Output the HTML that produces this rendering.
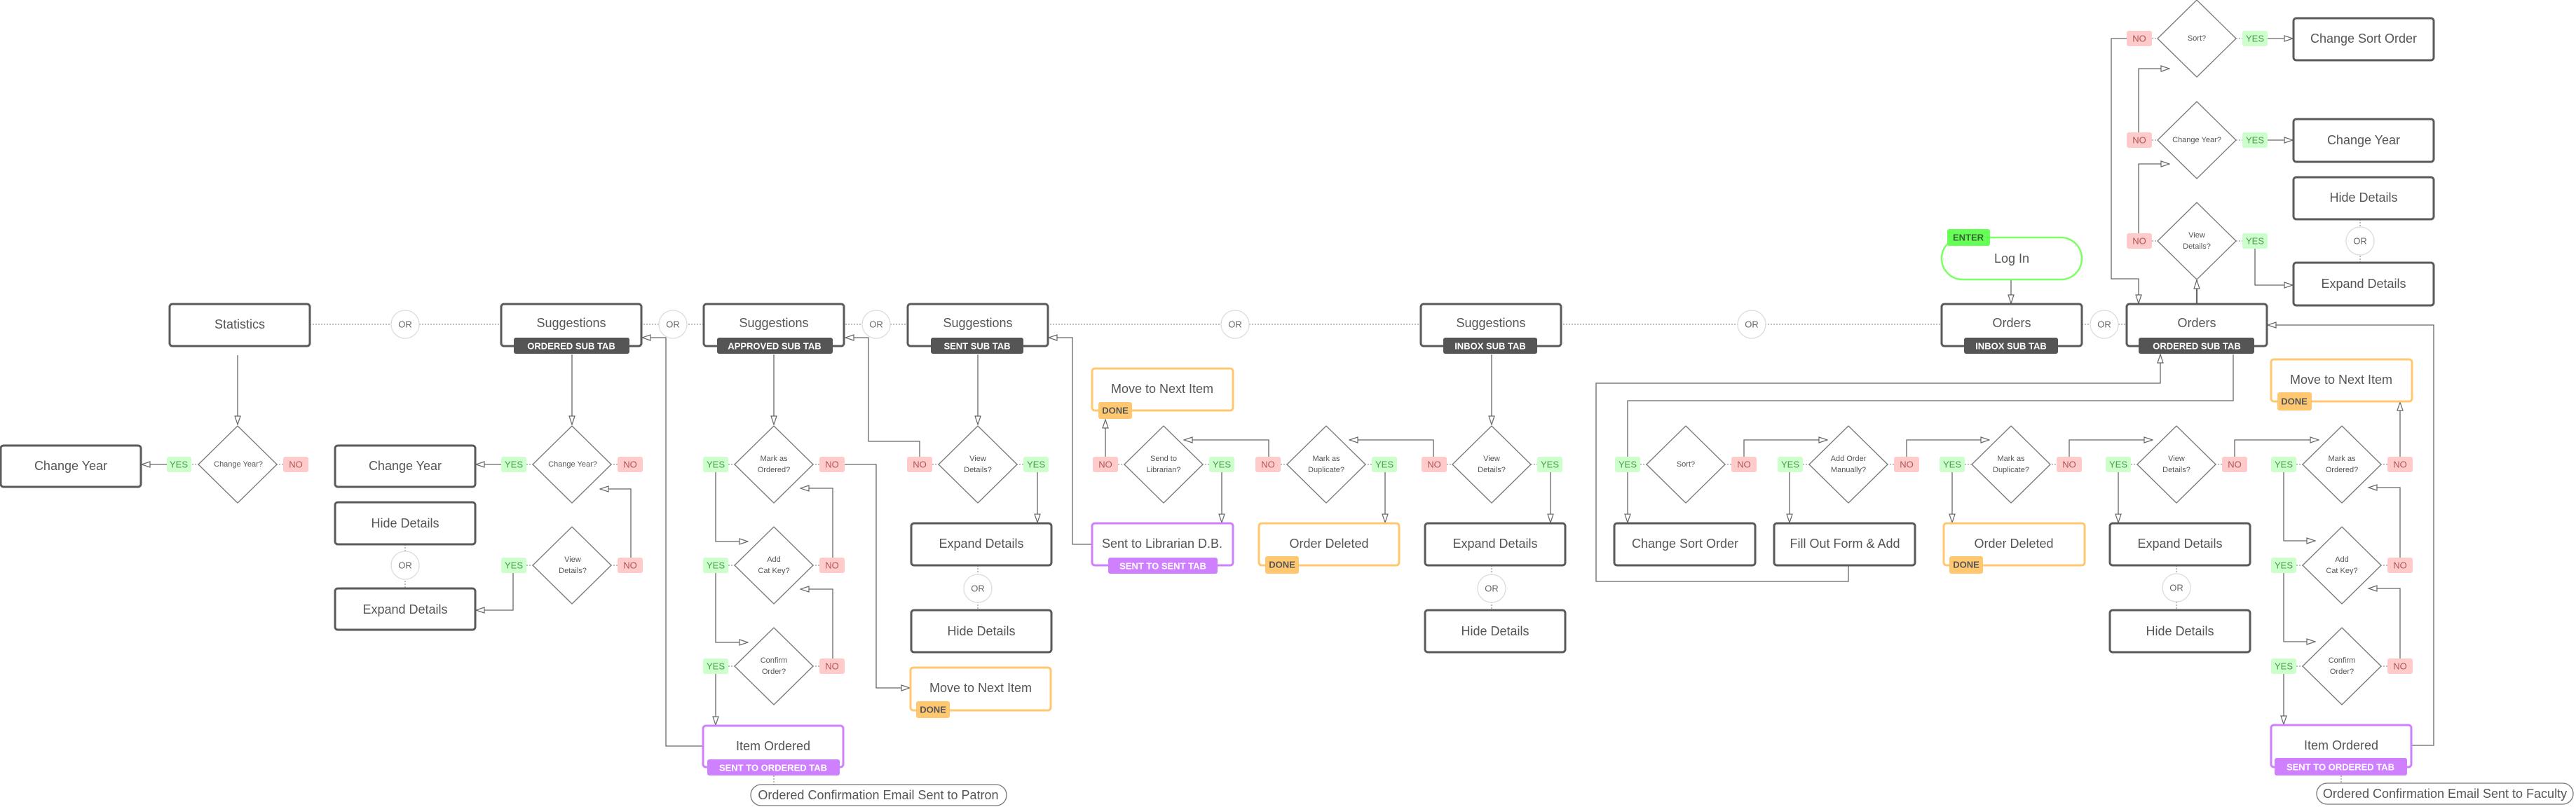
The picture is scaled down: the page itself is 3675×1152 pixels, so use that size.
<!DOCTYPE html>
<html><head><meta charset="utf-8"><style>
html,body{margin:0;padding:0;background:#fff}
svg{display:block}
.b{fill:#fff;stroke:#5a5a5a;stroke-width:3}
.bo{fill:#fff;stroke:#ffc870;stroke-width:3}
.bp{fill:#fff;stroke:#cf80ff;stroke-width:3}
.bg{fill:#fff;stroke:#7dff66;stroke-width:2.5}
.d{fill:#fff;stroke:#777;stroke-width:1.3;stroke-linejoin:round}
.l{fill:none;stroke:#666;stroke-width:1.3}
.dot{fill:none;stroke:#999;stroke-width:1.3;stroke-dasharray:2 2}
.or{fill:#fff;stroke:#ddd;stroke-width:1.3}
text{font-family:"Liberation Sans",sans-serif;text-anchor:middle;dominant-baseline:central}
.t{font-size:18px;fill:#555}
.s{font-size:13px;fill:#fff;font-weight:bold}
.q{font-size:11px;fill:#555}
.o{font-size:13px;fill:#666}
.yr{fill:#ccffcc}.nr{fill:#ffcaca}
.yt{font-size:13px;fill:#4a9a4a}.nt{font-size:13px;fill:#b05555}
.dn{fill:#ffc870}.dt{font-size:13px;fill:#555;font-weight:bold}
</style></head><body>
<svg width="3675" height="1152" viewBox="0 0 3675 1152" xmlns="http://www.w3.org/2000/svg">
<defs><marker id="a" viewBox="0 0 14 10" refX="13" refY="5" markerWidth="14" markerHeight="10" markerUnits="userSpaceOnUse" orient="auto"><path d="M1,1 L13,5 L1,9 Z" fill="#fff" stroke="#666" stroke-width="1.2"/></marker></defs>

<!-- main dotted line -->
<line class="dot" x1="442" y1="463" x2="3034" y2="463"/>
<!-- vertical OR dotted -->
<line class="dot" x1="578" y1="777" x2="578" y2="840"/>
<line class="dot" x1="1395" y1="807" x2="1395" y2="871"/>
<line class="dot" x1="2128" y1="807" x2="2128" y2="871"/>
<line class="dot" x1="3105" y1="807" x2="3105" y2="871"/>
<line class="dot" x1="3367" y1="313" x2="3367" y2="375"/>
<line class="dot" x1="1104" y1="1107" x2="1104" y2="1120"/>
<line class="dot" x1="3340" y1="1107" x2="3340" y2="1118"/>
<!-- decision dotted rows -->
<g class="dot">
<line x1="238" y1="663" x2="440" y2="663"/>
<line x1="715" y1="663" x2="917" y2="663"/><line x1="715" y1="807" x2="917" y2="807"/>
<line x1="1003" y1="663" x2="1205" y2="663"/><line x1="1003" y1="807" x2="1205" y2="807"/><line x1="1003" y1="951" x2="1205" y2="951"/>
<line x1="1294" y1="663" x2="1496" y2="663"/>
<line x1="1559" y1="663" x2="1760" y2="663"/>
<line x1="1791" y1="663" x2="1993" y2="663"/>
<line x1="2028" y1="663" x2="2228" y2="663"/>
<line x1="2304" y1="663" x2="2505" y2="663"/>
<line x1="2536" y1="663" x2="2737" y2="663"/>
<line x1="2767" y1="663" x2="2969" y2="663"/>
<line x1="3004" y1="663" x2="3206" y2="663"/>
<line x1="3240" y1="663" x2="3441" y2="663"/><line x1="3240" y1="807" x2="3441" y2="807"/><line x1="3240" y1="951" x2="3441" y2="951"/>
<line x1="3034" y1="55" x2="3234" y2="55"/><line x1="3034" y1="200" x2="3234" y2="200"/><line x1="3034" y1="344" x2="3234" y2="344"/>
</g>

<!-- connectors -->
<g class="l" marker-end="url(#a)">
<path d="M339,507 V606"/>
<path d="M238,663 H202"/>
<path d="M816,506 V606"/>
<path d="M715,663 H679"/>
<path d="M900,796 V698 H856"/>
<path d="M732,818 V871 H679"/>
<path d="M1003,1065 H950 V482 H916"/>
<path d="M1104,506 V606"/>
<path d="M1021,674 V773 H1067"/>
<path d="M1021,818 V917 H1067"/>
<path d="M1021,962 V1035"/>
<path d="M1188,796 V697 H1142"/>
<path d="M1188,940 V841 H1142"/>
<path d="M1205,663 H1250 V982 H1298"/>
<path d="M1395,506 V606"/>
<path d="M1312,652 V630 H1239 V482 H1206"/>
<path d="M1480,674 V746"/>
<path d="M1558,777 H1530 V482 H1496"/>
<path d="M1577,652 V599"/>
<path d="M1743,674 V746"/>
<path d="M1810,652 V628 H1689"/>
<path d="M1976,674 V746"/>
<path d="M2128,506 V606"/>
<path d="M2045,652 V628 H1925"/>
<path d="M2212,674 V746"/>
<path d="M2637,807 V830 H2277 V547 H3082 V506"/>
<path d="M3186,506 V572 H2322 V746"/>
<path d="M2488,652 V628 H2607"/>
<path d="M2553,674 V746"/>
<path d="M2720,652 V628 H2838"/>
<path d="M2785,674 V746"/>
<path d="M2952,652 V628 H3071"/>
<path d="M3022,674 V746"/>
<path d="M3188,652 V628 H3308"/>
<path d="M3424,652 V574"/>
<path d="M3258,674 V772 H3303"/>
<path d="M3258,818 V916 H3303"/>
<path d="M3258,962 V1034"/>
<path d="M3424,796 V696 H3379"/>
<path d="M3424,940 V840 H3379"/>
<path d="M3440,1064 H3472 V464 H3235"/>
<path d="M2869,399 V433"/>
<path d="M3034,55 H3012 V398 H3051 V433"/>
<path d="M3051,189 V98 H3095"/>
<path d="M3051,333 V234 H3095"/>
<path d="M3234,55 H3271"/>
<path d="M3234,200 H3271"/>
<path d="M3217,355 V407 H3271"/>
<path d="M3134,434 V400" style="stroke-width:2.2"/>
</g>

<!-- OR circles -->
<g>
<circle class="or" cx="578" cy="463" r="20"/><text class="o" x="578" y="463">OR</text>
<circle class="or" cx="960" cy="463" r="20"/><text class="o" x="960" y="463">OR</text>
<circle class="or" cx="1250" cy="463" r="20"/><text class="o" x="1250" y="463">OR</text>
<circle class="or" cx="1762" cy="463" r="20"/><text class="o" x="1762" y="463">OR</text>
<circle class="or" cx="2499" cy="463" r="20"/><text class="o" x="2499" y="463">OR</text>
<circle class="or" cx="3002" cy="463" r="20"/><text class="o" x="3002" y="463">OR</text>
<circle class="or" cx="578" cy="807" r="20"/><text class="o" x="578" y="807">OR</text>
<circle class="or" cx="1395" cy="840" r="20"/><text class="o" x="1395" y="840">OR</text>
<circle class="or" cx="2128" cy="840" r="20"/><text class="o" x="2128" y="840">OR</text>
<circle class="or" cx="3105" cy="839" r="20"/><text class="o" x="3105" y="839">OR</text>
<circle class="or" cx="3367" cy="344" r="20"/><text class="o" x="3367" y="344">OR</text>
</g>

<!-- main row boxes -->
<rect class="b" x="242" y="434" width="200" height="60" rx="4"/><text class="t" x="342" y="463">Statistics</text>
<rect class="b" x="715" y="434" width="200" height="60" rx="4"/><text class="t" x="815" y="461">Suggestions</text>
<rect x="733" y="482" width="165" height="23" rx="3" fill="#555"/><text class="s" x="815" y="494">ORDERED SUB TAB</text>
<rect class="b" x="1004" y="434" width="200" height="60" rx="4"/><text class="t" x="1104" y="461">Suggestions</text>
<rect x="1023" y="482" width="165" height="23" rx="3" fill="#555"/><text class="s" x="1105" y="494">APPROVED SUB TAB</text>
<rect class="b" x="1295" y="434" width="200" height="60" rx="4"/><text class="t" x="1395" y="461">Suggestions</text>
<rect x="1328" y="482" width="132" height="23" rx="3" fill="#555"/><text class="s" x="1394" y="494">SENT SUB TAB</text>
<rect class="b" x="2027" y="434" width="200" height="60" rx="4"/><text class="t" x="2127" y="461">Suggestions</text>
<rect x="2059" y="482" width="134" height="23" rx="3" fill="#555"/><text class="s" x="2126" y="494">INBOX SUB TAB</text>
<rect class="b" x="2770" y="434" width="200" height="60" rx="4"/><text class="t" x="2870" y="461">Orders</text>
<rect x="2802" y="482" width="134" height="23" rx="3" fill="#555"/><text class="s" x="2869" y="494">INBOX SUB TAB</text>
<rect class="b" x="3034" y="434" width="200" height="60" rx="4"/><text class="t" x="3134" y="461">Orders</text>
<rect x="3051" y="482" width="165" height="23" rx="3" fill="#555"/><text class="s" x="3134" y="494">ORDERED SUB TAB</text>

<!-- Log In -->
<rect class="bg" x="2770" y="339" width="200" height="60" rx="30"/><text class="t" x="2870" y="369">Log In</text>
<rect x="2778" y="327" width="61" height="24" rx="3" fill="#66ff55"/><text class="dt" x="2808" y="339" style="fill:#336633">ENTER</text>

<!-- diamonds -->
<g class="d">
<polygon points="339,608 395,663 339,718 283,663"/>
<polygon points="816,608 872,663 816,718 760,663"/>
<polygon points="816,752 872,807 816,862 760,807"/>
<polygon points="1104,608 1160,663 1104,718 1048,663"/>
<polygon points="1104,752 1160,807 1104,862 1048,807"/>
<polygon points="1104,896 1160,951 1104,1006 1048,951"/>
<polygon points="1395,608 1451,663 1395,718 1339,663"/>
<polygon points="1660,608 1716,663 1660,718 1604,663"/>
<polygon points="1892,608 1948,663 1892,718 1836,663"/>
<polygon points="2128,608 2184,663 2128,718 2072,663"/>
<polygon points="2405,608 2461,663 2405,718 2349,663"/>
<polygon points="2637,608 2693,663 2637,718 2581,663"/>
<polygon points="2869,608 2925,663 2869,718 2813,663"/>
<polygon points="3105,608 3161,663 3105,718 3049,663"/>
<polygon points="3341,608 3397,663 3341,718 3285,663"/>
<polygon points="3341,752 3397,807 3341,862 3285,807"/>
<polygon points="3341,896 3397,951 3341,1006 3285,951"/>
<polygon points="3134,0 3190,55 3134,110 3078,55"/>
<polygon points="3134,145 3190,200 3134,255 3078,200"/>
<polygon points="3134,289 3190,344 3134,399 3078,344"/>
</g>
<g class="q">
<text x="340" y="663">Change Year?</text>
<text x="817" y="663">Change Year?</text>
<text x="817" y="799">View</text><text x="817" y="815">Details?</text>
<text x="1104" y="655">Mark as</text><text x="1104" y="671">Ordered?</text>
<text x="1104" y="799">Add</text><text x="1104" y="815">Cat Key?</text>
<text x="1104" y="943">Confirm</text><text x="1104" y="959">Order?</text>
<text x="1395" y="655">View</text><text x="1395" y="671">Details?</text>
<text x="1660" y="655">Send to</text><text x="1660" y="671">Librarian?</text>
<text x="1892" y="655">Mark as</text><text x="1892" y="671">Duplicate?</text>
<text x="2128" y="655">View</text><text x="2128" y="671">Details?</text>
<text x="2405" y="663">Sort?</text>
<text x="2637" y="655">Add Order</text><text x="2637" y="671">Manually?</text>
<text x="2869" y="655">Mark as</text><text x="2869" y="671">Duplicate?</text>
<text x="3105" y="655">View</text><text x="3105" y="671">Details?</text>
<text x="3341" y="655">Mark as</text><text x="3341" y="671">Ordered?</text>
<text x="3341" y="799">Add</text><text x="3341" y="815">Cat Key?</text>
<text x="3341" y="943">Confirm</text><text x="3341" y="959">Order?</text>
<text x="3134" y="55">Sort?</text>
<text x="3134" y="200">Change Year?</text>
<text x="3134" y="336">View</text><text x="3134" y="352">Details?</text>
</g>

<!-- YES / NO labels -->
<g>
<rect class="yr" x="238" y="652" width="35" height="22" rx="3"/><text class="yt" x="255" y="663">YES</text>
<rect class="nr" x="404" y="652" width="36" height="22" rx="3"/><text class="nt" x="422" y="663">NO</text>
<rect class="yr" x="715" y="652" width="36" height="22" rx="3"/><text class="yt" x="733" y="663">YES</text>
<rect class="nr" x="881" y="652" width="36" height="22" rx="3"/><text class="nt" x="899" y="663">NO</text>
<rect class="yr" x="715" y="796" width="36" height="22" rx="3"/><text class="yt" x="733" y="807">YES</text>
<rect class="nr" x="881" y="796" width="36" height="22" rx="3"/><text class="nt" x="899" y="807">NO</text>
<rect class="yr" x="1003" y="652" width="36" height="22" rx="3"/><text class="yt" x="1021" y="663">YES</text>
<rect class="nr" x="1169" y="652" width="36" height="22" rx="3"/><text class="nt" x="1187" y="663">NO</text>
<rect class="yr" x="1003" y="796" width="36" height="22" rx="3"/><text class="yt" x="1021" y="807">YES</text>
<rect class="nr" x="1169" y="796" width="36" height="22" rx="3"/><text class="nt" x="1187" y="807">NO</text>
<rect class="yr" x="1003" y="940" width="36" height="22" rx="3"/><text class="yt" x="1021" y="951">YES</text>
<rect class="nr" x="1169" y="940" width="36" height="22" rx="3"/><text class="nt" x="1187" y="951">NO</text>
<rect class="nr" x="1294" y="652" width="36" height="22" rx="3"/><text class="nt" x="1312" y="663">NO</text>
<rect class="yr" x="1460" y="652" width="36" height="22" rx="3"/><text class="yt" x="1478" y="663">YES</text>
<rect class="nr" x="1559" y="652" width="36" height="22" rx="3"/><text class="nt" x="1577" y="663">NO</text>
<rect class="yr" x="1725" y="652" width="36" height="22" rx="3"/><text class="yt" x="1743" y="663">YES</text>
<rect class="nr" x="1791" y="652" width="36" height="22" rx="3"/><text class="nt" x="1809" y="663">NO</text>
<rect class="yr" x="1957" y="652" width="36" height="22" rx="3"/><text class="yt" x="1975" y="663">YES</text>
<rect class="nr" x="2028" y="652" width="36" height="22" rx="3"/><text class="nt" x="2046" y="663">NO</text>
<rect class="yr" x="2193" y="652" width="36" height="22" rx="3"/><text class="yt" x="2211" y="663">YES</text>
<rect class="yr" x="2304" y="652" width="36" height="22" rx="3"/><text class="yt" x="2322" y="663">YES</text>
<rect class="nr" x="2470" y="652" width="36" height="22" rx="3"/><text class="nt" x="2488" y="663">NO</text>
<rect class="yr" x="2536" y="652" width="36" height="22" rx="3"/><text class="yt" x="2554" y="663">YES</text>
<rect class="nr" x="2702" y="652" width="36" height="22" rx="3"/><text class="nt" x="2720" y="663">NO</text>
<rect class="yr" x="2767" y="652" width="36" height="22" rx="3"/><text class="yt" x="2785" y="663">YES</text>
<rect class="nr" x="2934" y="652" width="36" height="22" rx="3"/><text class="nt" x="2952" y="663">NO</text>
<rect class="yr" x="3004" y="652" width="36" height="22" rx="3"/><text class="yt" x="3022" y="663">YES</text>
<rect class="nr" x="3170" y="652" width="36" height="22" rx="3"/><text class="nt" x="3188" y="663">NO</text>
<rect class="yr" x="3240" y="652" width="36" height="22" rx="3"/><text class="yt" x="3258" y="663">YES</text>
<rect class="nr" x="3406" y="652" width="36" height="22" rx="3"/><text class="nt" x="3424" y="663">NO</text>
<rect class="yr" x="3240" y="796" width="36" height="22" rx="3"/><text class="yt" x="3258" y="807">YES</text>
<rect class="nr" x="3406" y="796" width="36" height="22" rx="3"/><text class="nt" x="3424" y="807">NO</text>
<rect class="yr" x="3240" y="940" width="36" height="22" rx="3"/><text class="yt" x="3258" y="951">YES</text>
<rect class="nr" x="3406" y="940" width="36" height="22" rx="3"/><text class="nt" x="3424" y="951">NO</text>
<rect class="nr" x="3034" y="44" width="36" height="22" rx="3"/><text class="nt" x="3052" y="55">NO</text>
<rect class="yr" x="3199" y="44" width="36" height="22" rx="3"/><text class="yt" x="3217" y="55">YES</text>
<rect class="nr" x="3034" y="189" width="36" height="22" rx="3"/><text class="nt" x="3052" y="200">NO</text>
<rect class="yr" x="3199" y="189" width="36" height="22" rx="3"/><text class="yt" x="3217" y="200">YES</text>
<rect class="nr" x="3034" y="333" width="36" height="22" rx="3"/><text class="nt" x="3052" y="344">NO</text>
<rect class="yr" x="3199" y="333" width="36" height="22" rx="3"/><text class="yt" x="3217" y="344">YES</text>
</g>

<!-- action boxes -->
<rect class="b" x="1" y="636" width="200" height="59" rx="4"/><text class="t" x="101" y="665">Change Year</text>
<rect class="b" x="478" y="636" width="200" height="59" rx="4"/><text class="t" x="578" y="665">Change Year</text>
<rect class="b" x="478" y="717" width="200" height="60" rx="4"/><text class="t" x="578" y="747">Hide Details</text>
<rect class="b" x="478" y="840" width="200" height="59" rx="4"/><text class="t" x="578" y="870">Expand Details</text>

<rect class="bp" x="1003" y="1036" width="200" height="59" rx="4"/><text class="t" x="1103" y="1065">Item Ordered</text>
<rect x="1009" y="1084" width="189" height="23" rx="3" fill="#cf80ff"/><text class="s" x="1103" y="1096">SENT TO ORDERED TAB</text>
<rect x="1071" y="1120" width="365" height="30" rx="15" fill="#fff" stroke="#777" stroke-width="1.3"/><text class="t" x="1253" y="1135">Ordered Confirmation Email Sent to Patron</text>

<rect class="b" x="1300" y="747" width="200" height="60" rx="4"/><text class="t" x="1400" y="776">Expand Details</text>
<rect class="b" x="1300" y="871" width="200" height="60" rx="4"/><text class="t" x="1400" y="901">Hide Details</text>
<rect class="bo" x="1299" y="953" width="200" height="61" rx="4"/><text class="t" x="1399" y="982">Move to Next Item</text>
<rect class="dn" x="1307" y="1001" width="48" height="24" rx="3"/><text class="dt" x="1331" y="1013">DONE</text>

<rect class="bo" x="1558" y="526" width="201" height="60" rx="4"/><text class="t" x="1658" y="555">Move to Next Item</text>
<rect class="dn" x="1567" y="574" width="48" height="24" rx="3"/><text class="dt" x="1591" y="586">DONE</text>
<rect class="bp" x="1558" y="747" width="201" height="60" rx="4"/><text class="t" x="1658" y="776">Sent to Librarian D.B.</text>
<rect x="1581" y="796" width="156" height="23" rx="3" fill="#cf80ff"/><text class="s" x="1659" y="808">SENT TO SENT TAB</text>

<rect class="bo" x="1796" y="747" width="200" height="60" rx="4"/><text class="t" x="1896" y="776">Order Deleted</text>
<rect class="dn" x="1805" y="794" width="48" height="25" rx="3"/><text class="dt" x="1829" y="806">DONE</text>

<rect class="b" x="2033" y="747" width="200" height="60" rx="4"/><text class="t" x="2133" y="776">Expand Details</text>
<rect class="b" x="2033" y="871" width="200" height="60" rx="4"/><text class="t" x="2133" y="901">Hide Details</text>

<rect class="b" x="2303" y="747" width="201" height="60" rx="4"/><text class="t" x="2404" y="776">Change Sort Order</text>
<rect class="b" x="2531" y="747" width="201" height="60" rx="4"/><text class="t" x="2632" y="776">Fill Out Form &amp; Add</text>
<rect class="bo" x="2773" y="747" width="201" height="60" rx="4"/><text class="t" x="2873" y="776">Order Deleted</text>
<rect class="dn" x="2781" y="794" width="48" height="25" rx="3"/><text class="dt" x="2805" y="806">DONE</text>
<rect class="b" x="3010" y="747" width="200" height="60" rx="4"/><text class="t" x="3110" y="776">Expand Details</text>
<rect class="b" x="3010" y="871" width="200" height="60" rx="4"/><text class="t" x="3110" y="901">Hide Details</text>

<rect class="bo" x="3240" y="513" width="201" height="60" rx="4"/><text class="t" x="3340" y="542">Move to Next Item</text>
<rect class="dn" x="3249" y="560" width="49" height="26" rx="3"/><text class="dt" x="3273" y="573">DONE</text>
<rect class="bp" x="3240" y="1035" width="200" height="60" rx="4"/><text class="t" x="3340" y="1064">Item Ordered</text>
<rect x="3245" y="1082" width="189" height="25" rx="3" fill="#cf80ff"/><text class="s" x="3339" y="1095">SENT TO ORDERED TAB</text>
<rect x="3305" y="1118" width="366" height="30" rx="15" fill="#fff" stroke="#777" stroke-width="1.3"/><text class="t" x="3488" y="1133">Ordered Confirmation Email Sent to Faculty</text>

<rect class="b" x="3272" y="26" width="200" height="60" rx="4"/><text class="t" x="3372" y="55">Change Sort Order</text>
<rect class="b" x="3272" y="170" width="200" height="61" rx="4"/><text class="t" x="3372" y="200">Change Year</text>
<rect class="b" x="3272" y="253" width="200" height="60" rx="4"/><text class="t" x="3372" y="282">Hide Details</text>
<rect class="b" x="3272" y="375" width="200" height="61" rx="4"/><text class="t" x="3372" y="405">Expand Details</text>
</svg>
</body></html>
